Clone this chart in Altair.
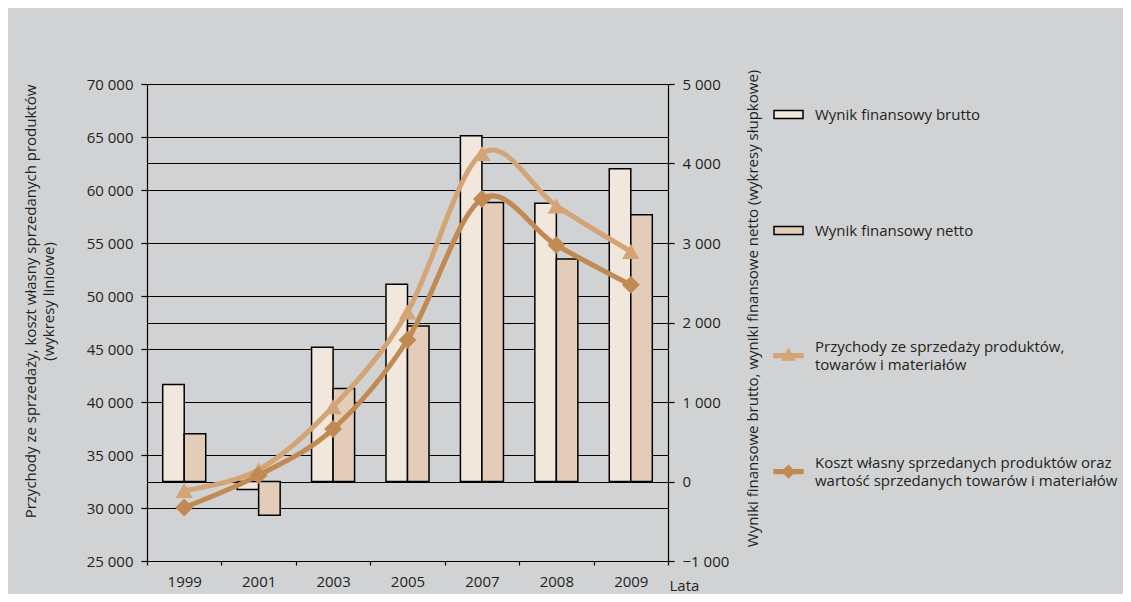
import altair as alt
import pandas as pd

years = ["1999", "2001", "2003", "2005", "2007", "2008", "2009"]

# right axis (bars)
brutto = [1220, -100, 1690, 2480, 4350, 3500, 3935]
netto = [600, -425, 1170, 1955, 3510, 2800, 3355]

# left axis (lines)
przychody = [31650, 33600, 39550, 48500, 63450, 58500, 54200]
koszt = [30050, 33100, 37450, 45850, 59150, 54800, 51050]

# legend labels ("|" marks a line break)
S_B = "Wynik finansowy brutto|"
S_N = "Wynik finansowy netto|"
S_P = "Przychody ze sprzedaży produktów,|\u00a0towarów i materiałów"
S_K = "Koszt własny sprzedanych produktów oraz|wartość sprzedanych towarów i materiałów"
series_all = [S_B, S_N, S_P, S_K]
bar_series = [S_B, S_N]

left_ticks = list(range(25000, 70001, 5000))
right_ticks = list(range(-1000, 5001, 1000))

C_BRUTTO = "#f1e7dd"
C_NETTO = "#e4cdb8"
C_PRZ = "#d3a475"
C_KOSZT = "#c28a53"
BG = "#d1d2d4"
TXT = "#231f20"
FONT = "Open Sans"
FS = 15

fill_scale = alt.Scale(domain=series_all, range=[C_BRUTTO, C_NETTO, C_PRZ, C_KOSZT])
stroke_scale = alt.Scale(domain=series_all, range=["#000000", "#000000", C_PRZ, C_KOSZT])
shape_scale = alt.Scale(
    domain=series_all,
    range=[
        "M-1,-0.28H1V0.28H-1Z",
        "M-1,-0.28H1V0.28H-1Z",
        "M-1,0.5H1V0.76H-1Z M-0.42,0.93L0,0.17L0.42,0.93Z",
        "M-1,0.5H1V0.76H-1Z M-0.42,0.63L0,0.21L0.42,0.63L0,1.05Z",
    ],
)

bars_df = pd.DataFrame(
    {
        "year": years * 2,
        "series": [S_B] * len(years) + [S_N] * len(years),
        "value": brutto + netto,
    }
)
lines_df = pd.DataFrame(
    {
        "year": years * 2,
        "series": [S_P] * len(years) + [S_K] * len(years),
        "value": przychody + koszt,
    }
)

num_label = "replace(format(datum.value, ','), ',', ' ')"

x_enc = alt.X(
    "year:N",
    sort=years,
    scale=alt.Scale(domain=years, paddingInner=0, paddingOuter=0),
    axis=alt.Axis(
        title="Lata",
        labelAngle=0,
        tickBand="extent",
        tickSize=4,
        labelPadding=9,
        titleX=522,
        titleY=29,
        titleAlign="left",
        titleBaseline="alphabetic",
        grid=False,
    ),
)

leg = alt.Legend(
    orient="none",
    legendX=626,
    legendY=15,
    title=None,
    labelExpr="split(datum.label, '|')",
    labelFont=FONT,
    labelFontSize=FS,
    labelColor=TXT,
    labelLimit=600,
    labelOffset=11,
    labelBaseline="middle",
    symbolSize=841,
    symbolStrokeWidth=1.5,
    symbolOpacity=1,
    rowPadding=74,
    padding=0,
)

fill_enc = alt.Fill("series:N", scale=fill_scale, legend=leg)
stroke_enc = alt.Stroke("series:N", scale=stroke_scale, legend=leg)

bars = (
    alt.Chart(bars_df)
    .mark_bar(strokeWidth=1.5, opacity=1)
    .encode(
        x=x_enc,
        xOffset=alt.XOffset("series:N", sort=bar_series,
                            scale=alt.Scale(domain=bar_series, paddingInner=0, paddingOuter=0.73)),
        y=alt.Y(
            "value:Q",
            scale=alt.Scale(domain=[-1000, 5000], nice=False, zero=False),
            axis=alt.Axis(
                orient="right",
                values=right_ticks,
                labelExpr=num_label,
                title="Wyniki finansowe brutto, wyniki finansowe netto (wykresy słupkowe)",
                titleAngle=270,
                titleX=89,
                titleY=224,
                titleAlign="center",
                titleBaseline="alphabetic",
                grid=True,
                tickSize=6,
                labelPadding=8,
            ),
        ),
        fill=fill_enc,
        stroke=stroke_enc,
    )
)

y_left = alt.Y(
    "value:Q",
    scale=alt.Scale(domain=[25000, 70000], nice=False, zero=False),
    axis=alt.Axis(
        orient="left",
        values=left_ticks,
        labelExpr=num_label,
        title=["Przychody ze sprzedaży, koszt własny sprzedanych produktów", "(wykresy liniowe)"],
        titleAngle=270,
        titleX=-112,
        titleY=217,
        titleAlign="center",
        titleBaseline="alphabetic",
        titleLineHeight=18,
        grid=True,
        tickSize=6,
        labelPadding=8,
    ),
)

lines = (
    alt.Chart(lines_df)
    .mark_line(interpolate="cardinal", tension=0, strokeWidth=5, strokeCap="round", strokeJoin="round")
    .encode(
        x=x_enc,
        y=y_left,
        stroke=stroke_enc,
        order=alt.Order("year:N"),
    )
)

pts_p = (
    alt.Chart(lines_df)
    .transform_filter(alt.datum.series == S_P)
    .mark_point(filled=True, opacity=1, shape="triangle-up", size=300)
    .encode(x=x_enc, y=y_left, fill=fill_enc)
)
pts_k = (
    alt.Chart(lines_df)
    .transform_filter(alt.datum.series == S_K)
    .mark_point(filled=True, opacity=1, shape="diamond", size=320)
    .encode(x=x_enc, y=y_left, fill=fill_enc)
)

legend_layer = (
    alt.Chart(lines_df)
    .transform_filter("false")
    .mark_point(filled=True, opacity=1)
    .encode(
        fill=fill_enc,
        stroke=stroke_enc,
        shape=alt.Shape("series:N", scale=shape_scale, legend=leg),
    )
)

inner = alt.layer(lines, pts_p, pts_k, legend_layer)

chart = (
    alt.layer(bars, inner)
    .resolve_scale(y="independent")
    .properties(
        width=521,
        height=477,
        background=BG,
        autosize=alt.AutoSizeParams(type="none"),
        padding={"left": 139, "top": 76, "right": 455, "bottom": 33},
    )
    .configure(style={"guide-label": {"lineHeight": 18}})
    .configure_view(stroke=None)
    .configure_axis(
        domainColor="#000000",
        domainWidth=1.2,
        tickColor="#000000",
        tickWidth=1.2,
        gridColor="#000000",
        gridWidth=1,
        gridOpacity=1,
        labelFont=FONT,
        labelFontSize=FS,
        labelColor=TXT,
        titleFont=FONT,
        titleFontSize=FS,
        titleFontWeight="normal",
        titleColor=TXT,
    )
)

chart.save("out.html", embed_options={"renderer": "svg", "actions": False})
